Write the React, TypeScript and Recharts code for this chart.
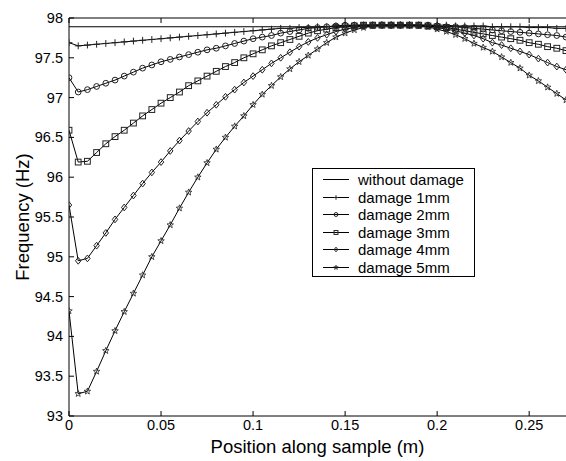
import React from 'react';
import { LineChart, Line, XAxis, YAxis } from 'recharts';

// position along the sample (m)
const positions = [
  0, 0.005, 0.01, 0.015, 0.02, 0.025, 0.03, 0.035, 0.04, 0.045,
  0.05, 0.055, 0.06, 0.065, 0.07, 0.075, 0.08, 0.085, 0.09, 0.095,
  0.1, 0.105, 0.11, 0.115, 0.12, 0.125, 0.13, 0.135, 0.14, 0.145,
  0.15, 0.155, 0.16, 0.165, 0.17, 0.175, 0.18, 0.185, 0.19, 0.195,
  0.2, 0.205, 0.21, 0.215, 0.22, 0.225, 0.23, 0.235, 0.24, 0.245,
  0.25, 0.255, 0.26, 0.265, 0.27,
];

const damage1 = [
  97.69, 97.65, 97.66, 97.67, 97.68, 97.69, 97.7, 97.71, 97.72, 97.73,
  97.74, 97.75, 97.76, 97.77, 97.78, 97.79, 97.8, 97.81, 97.82, 97.83,
  97.84, 97.85, 97.86, 97.87, 97.87, 97.88, 97.88, 97.89, 97.89, 97.9,
  97.9, 97.91, 97.91, 97.91, 97.91, 97.91, 97.91, 97.91, 97.91, 97.91,
  97.91, 97.91, 97.9, 97.9, 97.9, 97.9, 97.89, 97.89, 97.89, 97.89,
  97.88, 97.88, 97.88, 97.87, 97.87,
];

const damage2 = [
  97.25, 97.07, 97.1, 97.14, 97.18, 97.22, 97.27, 97.32, 97.37, 97.41,
  97.45, 97.48, 97.51, 97.54, 97.57, 97.6, 97.62, 97.65, 97.68, 97.71,
  97.74, 97.76, 97.78, 97.81, 97.83, 97.85, 97.87, 97.88, 97.89, 97.9,
  97.91, 97.91, 97.91, 97.91, 97.91, 97.91, 97.91, 97.91, 97.91, 97.91,
  97.9, 97.89, 97.89, 97.88, 97.87, 97.86, 97.85, 97.84, 97.83, 97.82,
  97.81, 97.8, 97.79, 97.78, 97.76,
];

const damage3 = [
  96.59, 96.19, 96.2, 96.31, 96.42, 96.51, 96.59, 96.68, 96.77, 96.85,
  96.93, 97.0, 97.07, 97.15, 97.21, 97.27, 97.33, 97.39, 97.44, 97.5,
  97.55, 97.6, 97.65, 97.69, 97.73, 97.77, 97.81, 97.84, 97.86, 97.88,
  97.89, 97.9, 97.91, 97.91, 97.91, 97.91, 97.91, 97.91, 97.91, 97.9,
  97.89, 97.88, 97.86, 97.84, 97.82, 97.8, 97.78, 97.76, 97.74, 97.72,
  97.69, 97.67, 97.64, 97.62, 97.59,
];

const damage4 = [
  95.65, 94.95, 94.98, 95.14, 95.3, 95.47, 95.62, 95.77, 95.92, 96.06,
  96.19, 96.33, 96.46, 96.58, 96.7, 96.81, 96.91, 97.01, 97.1, 97.19,
  97.27, 97.35, 97.43, 97.5, 97.57, 97.64, 97.7, 97.75, 97.79, 97.83,
  97.86, 97.88, 97.9, 97.91, 97.91, 97.91, 97.91, 97.91, 97.91, 97.9,
  97.88, 97.86, 97.84, 97.81, 97.78, 97.74, 97.69, 97.66, 97.62, 97.58,
  97.54, 97.49, 97.44, 97.39, 97.35,
];

const damage5 = [
  94.32, 93.28, 93.31, 93.56, 93.82, 94.07, 94.31, 94.54, 94.77, 95.0,
  95.2, 95.4, 95.61, 95.81, 96.0, 96.18, 96.35, 96.5, 96.64, 96.77,
  96.91, 97.04, 97.15, 97.26, 97.36, 97.45, 97.53, 97.61, 97.69, 97.76,
  97.81, 97.85, 97.88, 97.9, 97.91, 97.91, 97.91, 97.91, 97.9, 97.89,
  97.86, 97.83, 97.79, 97.74, 97.68, 97.63, 97.58, 97.51, 97.44, 97.37,
  97.28, 97.21, 97.13, 97.05, 96.97,
];

const baselinePos = [0, 0.27];
const baselineFreq = [97.89, 97.89];

const xTicks = [0, 0.05, 0.1, 0.15, 0.2, 0.25];
const yTicks = [93, 93.5, 94, 94.5, 95, 95.5, 96, 96.5, 97, 97.5, 98];

const FONT = '"Liberation Sans", Arial, sans-serif';

const rows = positions.map((x, i) => ({
  x,
  d1: damage1[i],
  d2: damage2[i],
  d3: damage3[i],
  d4: damage4[i],
  d5: damage5[i],
}));
const baselineRows = baselinePos.map((x, i) => ({ x, base: baselineFreq[i] }));

type MarkerKind = 'plus' | 'circle' | 'square' | 'diamond' | 'star';

const markerShape = (kind: MarkerKind, cx: number, cy: number, r: number, key?: any) => {
  const stroke = '#222';
  if (kind === 'plus') {
    return (
      <path key={key} d={`M${cx - r},${cy}H${cx + r}M${cx},${cy - r}V${cy + r}`} stroke={stroke} strokeWidth={1} fill="none" />
    );
  }
  if (kind === 'circle') {
    return <circle key={key} cx={cx} cy={cy} r={r * 0.85} stroke={stroke} strokeWidth={1} fill="none" />;
  }
  if (kind === 'square') {
    const s = r * 0.85;
    return <rect key={key} x={cx - s} y={cy - s} width={s * 2} height={s * 2} stroke={stroke} strokeWidth={1} fill="none" />;
  }
  if (kind === 'diamond') {
    return (
      <path key={key} d={`M${cx},${cy - r}L${cx + r * 0.8},${cy}L${cx},${cy + r}L${cx - r * 0.8},${cy}Z`} stroke={stroke} strokeWidth={1} fill="none" />
    );
  }
  const pts: string[] = [];
  for (let k = 0; k < 10; k++) {
    const rr = k % 2 === 0 ? r : r * 0.42;
    const a = -Math.PI / 2 + (k * Math.PI) / 5;
    pts.push(`${cx + rr * Math.cos(a)},${cy + rr * Math.sin(a)}`);
  }
  return <polygon key={key} points={pts.join(' ')} stroke={stroke} strokeWidth={0.8} fill="none" />;
};

const makeDot = (kind: MarkerKind) => (props: any) => {
  const { cx, cy, index } = props;
  if (cx == null || cy == null) return <g key={`e-${index}`} />;
  return markerShape(kind, cx, cy, 3.4, `${kind}-${index}`);
};

const BottomTick = (props: any) => {
  const { x, y, payload } = props;
  return (
    <g>
      <line x1={x} y1={y} x2={x} y2={y - 5} stroke="#000" />
      <text x={x} y={y + 14} textAnchor="middle" fontSize={14.5} fontFamily={FONT} fill="#000">
        {String(payload.value)}
      </text>
    </g>
  );
};

const TopTick = (props: any) => {
  const { x, y } = props;
  return <line x1={x} y1={y} x2={x} y2={y + 5} stroke="#000" />;
};

const LeftTick = (props: any) => {
  const { x, y, payload } = props;
  return (
    <g>
      <line x1={x} y1={y} x2={x + 5} y2={y} stroke="#000" />
      <text x={x - 6} y={y + 5} textAnchor="end" fontSize={14.5} fontFamily={FONT} fill="#000">
        {String(payload.value)}
      </text>
    </g>
  );
};

const legendItems: { label: string; kind: MarkerKind | null }[] = [
  { label: 'without damage', kind: null },
  { label: 'damage 1mm', kind: 'plus' },
  { label: 'damage 2mm', kind: 'circle' },
  { label: 'damage 3mm', kind: 'square' },
  { label: 'damage 4mm', kind: 'diamond' },
  { label: 'damage 5mm', kind: 'star' },
];

const LegendBox = () => (
  <div
    style={{
      position: 'absolute',
      left: 312,
      top: 168,
      width: 161,
      height: 105,
      border: '1px solid #000',
      background: '#fff',
      paddingTop: 2,
      boxSizing: 'content-box',
      fontFamily: FONT,
      fontSize: 15,
    }}
  >
    {legendItems.map((item) => (
      <div key={item.label} style={{ height: 17.5, position: 'relative' }}>
        <svg width={40} height={17} style={{ position: 'absolute', left: 0, top: 0 }}>
          <line x1={10} y1={8.5} x2={36} y2={8.5} stroke="#000" strokeWidth={1} />
          {item.kind && markerShape(item.kind, 23, 8.5, 2.3)}
        </svg>
        <span style={{ position: 'absolute', left: 45, top: 0, lineHeight: '17px', color: '#000' }}>{item.label}</span>
      </div>
    ))}
  </div>
);

export default function App() {
  return (
    <div style={{ position: 'absolute', left: 0, top: 0, width: 566, height: 461, overflow: 'hidden', background: '#fff' }}>
      <LineChart width={568} height={461} data={rows} margin={{ top: 0, right: 2, bottom: 0, left: 0 }}>
        <XAxis
          dataKey="x"
          type="number"
          domain={[0, 0.27]}
          ticks={xTicks}
          allowDataOverflow
          height={45}
          tickSize={0}
          tickMargin={0}
          tick={<BottomTick />}
          axisLine={{ stroke: '#000' }}
          interval={0}
          label={{
            value: 'Position along sample (m)',
            position: 'insideBottom',
            offset: 8,
            style: { fontSize: 18.5, fontFamily: FONT, fill: '#000' },
          }}
        />
        <XAxis
          xAxisId="top"
          orientation="top"
          dataKey="x"
          type="number"
          domain={[0, 0.27]}
          ticks={xTicks}
          allowDataOverflow
          height={18}
          tickSize={0}
          tickMargin={0}
          tick={<TopTick />}
          axisLine={{ stroke: '#000' }}
          interval={0}
        />
        <YAxis
          type="number"
          domain={[93, 98]}
          ticks={yTicks}
          allowDataOverflow
          width={69}
          tickSize={0}
          tickMargin={0}
          tick={<LeftTick />}
          axisLine={{ stroke: '#000' }}
          interval={0}
          label={{
            value: 'Frequency (Hz)',
            angle: -90,
            position: 'insideLeft',
            offset: 22,
            style: { fontSize: 18.5, fontFamily: FONT, fill: '#000', textAnchor: 'middle' },
          }}
        />
        <Line data={baselineRows} dataKey="base" stroke="#000" strokeWidth={1} dot={false} isAnimationActive={false} />
        <Line dataKey="d1" stroke="#000" strokeWidth={1} dot={makeDot('plus')} isAnimationActive={false} />
        <Line dataKey="d2" stroke="#000" strokeWidth={1} dot={makeDot('circle')} isAnimationActive={false} />
        <Line dataKey="d3" stroke="#000" strokeWidth={1} dot={makeDot('square')} isAnimationActive={false} />
        <Line dataKey="d4" stroke="#000" strokeWidth={1} dot={makeDot('diamond')} isAnimationActive={false} />
        <Line dataKey="d5" stroke="#000" strokeWidth={1} dot={makeDot('star')} isAnimationActive={false} />
      </LineChart>
      <LegendBox />
    </div>
  );
}
